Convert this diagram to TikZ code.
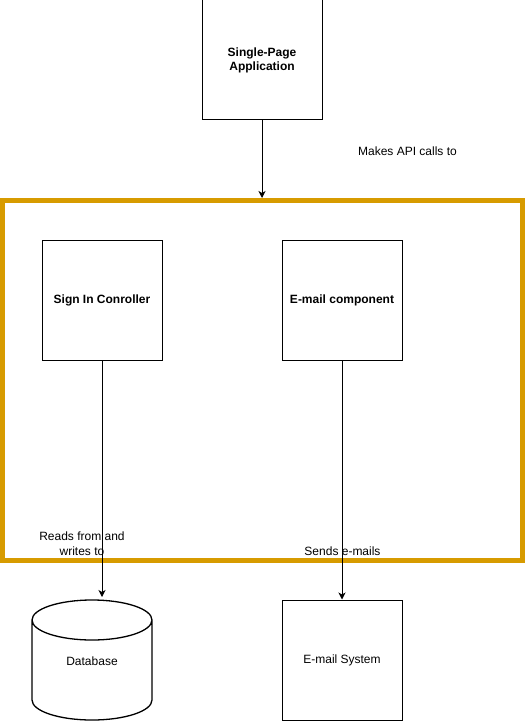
\documentclass[tikz,border=0pt]{standalone}
\usepackage{fontspec}
\setmainfont{Liberation Sans}
\usetikzlibrary{arrows.meta,shapes.geometric}
\definecolor{frameorange}{HTML}{D79B00}
\begin{document}
\begin{tikzpicture}[x=1pt,y=-1pt,
  box/.style={draw=black,line width=1pt,minimum width=120pt,minimum height=120pt,inner sep=0pt,align=center,font=\fontsize{12}{14}\selectfont,text depth=1.5pt},
  bbox/.style={box,font=\fontsize{12}{14}\selectfont\bfseries},
  lbl/.style={inner sep=0pt,align=center,font=\fontsize{12}{14.5}\selectfont},
  conn/.style={line width=1pt,-{Stealth[length=7pt,width=7pt,inset=2pt]}}]
\useasboundingbox (0,0) rectangle (525,722);
\fill[white] (0,0) rectangle (525,722);
% frame
\draw[frameorange,line width=5pt] (2.5,200.5) rectangle (522.5,560);
\coordinate (frametop) at (262,198);
% nodes
\node[bbox] (spa) at (262,60) {Single-Page\\Application};
\node[bbox] (signin) at (102,300) {Sign In Conroller};
\node[bbox] (email) at (342,300) {E-mail component};
\node[box] (esys) at (342,660) {E-mail System};
% database cylinder
\node[inner sep=0pt,minimum width=120pt,minimum height=120pt] (db) at (92,660) {};
\draw[line width=1.3pt] (32,620) arc[start angle=180,end angle=360,x radius=60,y radius=20]
  (32,620) arc[start angle=180,end angle=0,x radius=60,y radius=20]
  (32,620) -- (32,700) arc[start angle=180,end angle=0,x radius=60,y radius=20] -- (152,620);
\node[lbl] at (92,661) {Database};
% labels
\node[lbl] (l1) at (407.5,151) {Makes API calls to};
\node[lbl] (l2) at (82,543.5) {Reads from and\\writes to};
\node[lbl] (l3) at (342.5,551) {Sends e-mails};
% connectors
\draw[conn] (spa.south) -- (frametop);
\draw[conn] (signin.south) -- (102,597);
\draw[conn] (email.south) -- (esys.north);
\end{tikzpicture}
\end{document}
